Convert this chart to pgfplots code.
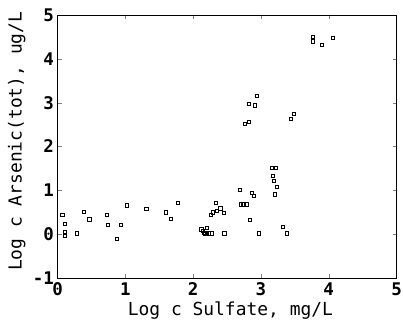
\documentclass[border=0pt]{standalone}
\usepackage{fontspec}
\setmainfont{DejaVu Sans Mono}
\usepackage{pgfplots}
\pgfplotsset{compat=1.18}
\begin{document}
\begin{tikzpicture}
\begin{axis}[
  at={(57.5bp,42bp)}, anchor=south west,
  scale only axis, width=339bp, height=263bp,
  xmin=0, xmax=5, ymin=-1, ymax=5,
  xtick={0,1,2,3,4,5}, ytick={-1,0,1,2,3,4,5},
  tick align=inside, major tick length=4bp,
  axis line style={line width=0.8bp},
  /pgf/number format/assume math mode=true,
  ticklabel style={font=\fontsize{17.5}{18}\selectfont\bfseries},
  xticklabel style={yshift=-1bp},
  label style={font=\fontsize{18}{19}\selectfont},
  xlabel={Log c Sulfate, mg/L},
  ylabel={Log c Arsenic(tot), ug/L},
  xlabel style={at={(axis description cs:0.51,-0.125)}, anchor=center},
  ylabel style={at={(axis description cs:-0.12,0.52)}, anchor=center},
]
\addplot[only marks, mark=square, mark size=1.6bp, mark options={line width=0.6bp, black}] coordinates {
(0.07,0.44) (0.11,0.23) (0.11,0.06) (0.11,-0.03) (0.28,0.02) (0.39,0.51) (0.47,0.34)
(0.73,0.44) (0.74,0.21) (0.87,-0.11) (0.93,0.21) (1.02,0.66) (1.31,0.58)
(1.60,0.50) (1.67,0.35) (1.77,0.72)
(2.12,0.11) (2.14,0.08) (2.16,0.04) (2.17,0.02) (2.20,0.15) (2.20,0.02) (2.23,0.02) (2.28,0.02)
(2.26,0.44) (2.29,0.50) (2.33,0.72) (2.35,0.54) (2.40,0.59) (2.45,0.48) (2.46,0.02)
(2.69,1.02) (2.70,0.68) (2.73,0.68) (2.79,0.68)
(2.76,2.51) (2.82,2.57) (2.82,2.97) (2.91,2.94) (2.94,3.15)
(2.84,0.32) (2.87,0.95) (2.90,0.88) (2.97,0.02)
(3.16,1.51) (3.22,1.51) (3.18,1.33) (3.19,1.22) (3.21,0.91) (3.24,1.08)
(3.32,0.17) (3.38,0.02) (3.44,2.64) (3.48,2.74)
(3.77,4.51) (3.77,4.40) (3.90,4.32) (4.06,4.48)
};
\end{axis}
\pgfresetboundingbox
\path (0,0) rectangle (403bp,320bp);
\end{tikzpicture}
\end{document}
